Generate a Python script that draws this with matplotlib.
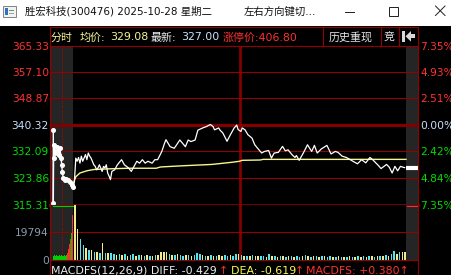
import numpy as np
import matplotlib
matplotlib.use('Agg')
import matplotlib.pyplot as plt
from matplotlib.patches import Rectangle, Polygon

plt.rcParams['font.family'] = ['DejaVu Sans', 'Noto Sans CJK SC']

W, H = 452, 275

# header info
stock_name = '胜宏科技'
stock_code = '300476'
trade_date = '2025-10-28'
weekday = '星期二'
avg_price_now = 329.08
last_price = 327.00
limit_up = 406.80
macd_diff, macd_dea, macd_val = -0.429, -0.619, 0.380

# axis labels
price_levels = [365.33, 357.10, 348.87, 340.32, 332.09, 323.86, 315.31]
pct_labels = ['7.35%', '4.93%', '2.51%', '0.00%', '2.42%', '4.84%', '7.35%']
pre_close = 340.32
vol_levels = [19794, 0]
vol_top = 39588

# call auction (9:15-9:25), minutes relative to the open
auc_t = [-14.2, -14.2, -14.0, -13.7, -13.0, -11.7, -10.6, -9.9, -9.4, -8.6,
         -8.1, -7.7, -7.0, -5.8, -4.7, -3.4, -2.2, -0.9, 0.0]
auc_p = [338.8, 315.9, 329.9, 334.1, 331.5, 333.6, 332.6, 331.0, 333.1, 329.9,
         327.8, 325.7, 323.6, 323.1, 323.3, 323.1, 322.5, 321.5, 321.0]
auc_vol = [2900, 3600, 2900, 3600, 2900, 2900, 3600, 2900, 3600, 2900,
           2900, 3600, 2900, 3600, 5000, 8000, 11500, 15000, 19300, 32000]
auc_tone = ['g'] * 14 + ['r'] * 4 + ['g', 'r']

# intraday price (minute, price)
price_t = [0, 1, 2, 3, 4, 5, 6, 7, 9, 10, 11, 12, 13, 15, 16, 17, 18, 19, 21, 22,
           23, 24, 25, 26, 27, 28, 30, 32, 35, 37, 40, 42, 44, 46, 48, 50, 52, 54, 57, 59,
           61, 64, 66, 67, 70, 73, 77, 81, 83, 85, 88, 90, 94, 96, 99, 101, 102, 105, 106, 108,
           111, 113, 116, 118, 119, 121, 122, 124, 126, 129, 131, 134, 136, 138, 141, 143, 145, 148, 151, 153,
           155, 158, 160, 161, 163, 166, 169, 172, 174, 176, 179, 183, 186, 189, 191, 194, 197, 201, 205, 208,
           211, 214, 216, 220, 222, 226, 228, 230, 232, 234, 236, 238, 239]
price_v = [321.0, 322.5, 330.0, 329.0, 330.2, 328.4, 330.6, 329.0, 331.1, 329.5,
           331.6, 330.6, 330.0, 327.9, 327.4, 326.3, 326.9, 327.9, 325.8, 327.4,
           326.9, 327.9, 325.3, 324.3, 323.2, 325.8, 326.3, 327.9, 329.5, 327.9,
           326.9, 325.8, 327.4, 329.0, 328.4, 329.5, 328.4, 329.0, 328.4, 329.5,
           329.5, 332.1, 334.7, 335.8, 333.6, 333.1, 335.7, 333.6, 335.7, 335.2,
           335.7, 338.8, 339.6, 339.9, 340.6, 339.9, 338.9, 339.5, 338.8, 337.9,
           335.3, 337.0, 339.4, 340.4, 339.0, 338.4, 339.5, 338.9, 337.4, 336.3,
           334.2, 332.6, 331.6, 332.1, 332.4, 330.0, 331.6, 331.8, 333.7, 332.3,
           332.6, 331.0, 330.2, 330.8, 329.3, 331.6, 334.2, 332.1, 334.0, 331.6,
           332.9, 334.0, 331.3, 332.1, 331.8, 330.6, 330.2, 329.2, 328.2, 329.5,
           328.5, 330.2, 329.5, 327.7, 326.7, 328.0, 327.1, 325.3, 327.4, 326.0,
           327.4, 327.1, 327.0]

# average price line
avg_t = [0, 1, 2, 5, 10, 15, 25, 40, 60, 63, 80, 100, 115, 120, 122, 135, 137, 240]
avg_v = [321.5, 323.0, 324.1, 325.3, 326.0, 326.4, 326.6, 326.8, 326.8, 327.2,
         327.6, 328.0, 328.7, 329.0, 329.3, 329.4, 329.6, 329.6]

# volume, one bar per two minutes ('c' = cyan, 'y' = yellow)
vol_v = [40000, 22000, 15000, 10700, 8300, 7150, 7150, 6000, 6000, 4800,
         11900, 4800, 5200, 4800, 4000, 3600, 4300, 3600, 4300, 3200,
         3600, 4300, 3200, 3600, 3900, 3200, 3600, 2900, 3200, 3600,
         3900, 5500, 6000, 5500, 4300, 3900, 3600, 4300, 3600, 3200,
         3600, 3900, 3200, 3600, 4800, 4300, 3600, 3200, 2900, 3600,
         3200, 2900, 3600, 3200, 3900, 3200, 3600, 3200, 4300, 4300,
         3600, 3200, 2900, 3200, 3600, 2900, 3200, 2900, 3200, 2500,
         4300, 2900, 3200, 2500, 2900, 3200, 2500, 2900, 3200, 2500,
         2900, 2500, 2900, 3600, 2900, 2500, 3200, 2900, 2500, 2900,
         3200, 2500, 2900, 2500, 2200, 2900, 2500, 2200, 2500, 2900,
         2500, 2200, 2900, 2500, 2900, 2500, 3200, 2900, 2500, 2900,
         3200, 2900, 3600, 3200, 4300, 6400, 4300, 6000, 5500, 6000]
vol_tone = ''.join(['yyccycycyc', 'ycyccycycy', 'ccycycycyc', 'yyyycycycc',
                    'ycycccycyc', 'ycyyccyccy', 'cycycyyccy', 'cycycycycy',
                    'ccycycycyc', 'yccycycycy', 'cycycycycy', 'cycyccycyy'])
close_vol = [2000, 1400, 2100, 2900, 3600, 4300, 5000, 5700, 6400, 7100, 7100]
close_tone = ['g'] + ['r'] * 10

tone_col = {'c': '#52e4f0', 'y': '#efeb8e', 'g': '#00d000', 'r': '#ff3030'}
RED_T = '#960000'
RED_K = '#820000'
SHADE = '#252525'
T0, T1 = -16.58, 248.65

fig = plt.figure(figsize=(W / 100, H / 100), dpi=100, facecolor='black')


def box(x0, y0, x1, y1):
    return [x0 / W, 1 - y1 / H, (x1 - x0) / W, (y1 - y0) / H]


ax = fig.add_axes(box(50, 46, 418, 204.7))
axv = fig.add_axes(box(50, 204.7, 418, 260))
for a in (ax, axv):
    a.set_facecolor('black')
    a.set_xlim(T0, T1)
    a.set_xticks([])
    a.set_yticks([])
    for s in a.spines.values():
        s.set_visible(False)
    a.axvspan(T0, 0, color=SHADE, lw=0, zorder=0)
    a.axvspan(240, T1, color=SHADE, lw=0, zorder=0)
    a.axvline(120, color=RED_K, lw=2.0, zorder=1)
    a.axvline(-7.9, color='#c00000', lw=0.7, ls=(0, (1, 1.6)), zorder=1)

ax.set_ylim(price_levels[-1], price_levels[0])
axv.set_ylim(0, vol_top)

# price grid
for lv in price_levels[1:-1]:
    if lv == pre_close:
        ax.axhline(lv, color=RED_K, lw=2.3, zorder=1)
    else:
        ax.axhline(lv, color=RED_T, lw=0.75, zorder=1)
ax.axhline(price_levels[-1], color=RED_K, lw=2.0, zorder=1, clip_on=False)
axv.axhline(vol_levels[0], color=RED_T, lw=0.75, zorder=1)

# lines
ax.plot(auc_t, auc_p, color='white', lw=1.0, marker='o', ms=2.6,
        mec='white', mfc='white', zorder=4)
ax.plot(avg_t, avg_v, color='#f6f68e', lw=1.0, zorder=3)
ax.plot(price_t, price_v, color='white', lw=0.9, zorder=4)
ax.plot([240, T1], [last_price, last_price], color='white', lw=3.0,
        solid_capstyle='butt', zorder=4, clip_on=False)

# volume bars
sess_x = 1.4 + 2 * np.arange(len(vol_v))
axv.bar(sess_x, vol_v, width=1.1, color=[tone_col[c] for c in vol_tone], zorder=2)
auc_x = np.linspace(-14.05, -0.36, len(auc_vol))
axv.bar(auc_x, auc_vol, width=0.62, color=[tone_col[c] for c in auc_tone], zorder=2)
close_x = np.linspace(240.7, 247.9, len(close_vol))
axv.bar(close_x, close_vol, width=0.62, color=[tone_col[c] for c in close_tone], zorder=2)
axv.plot([-14.3, 0], [38600, 38600], color='#00d000', lw=0.8, zorder=2)
axv.plot([241, T1], [38600, 38600], color='#ff3030', lw=0.8, zorder=2)

# axis labels
FS = 7.7
FT = 7.9
lab_cols = ['#ff3232'] * 3 + ['#c8e0ff'] + ['#00dc00'] * 3
for lv, pct, c in zip(price_levels, pct_labels, lab_cols):
    ax.text(-0.003, lv, f'{lv:.2f}', transform=ax.get_yaxis_transform(),
            ha='right', va='center_baseline', color=c, fontsize=FS, clip_on=False)
    ax.text(1.006, lv, pct, transform=ax.get_yaxis_transform(),
            ha='left', va='center_baseline', color=c, fontsize=FS, clip_on=False)
for lv in vol_levels:
    axv.text(-0.003, lv, f'{lv}', transform=axv.get_yaxis_transform(),
             ha='right', va='center_baseline', color='#8a98aa', fontsize=FS, clip_on=False)

# decoration layer in pixel coordinates
deco = fig.add_axes([0, 0, 1, 1], zorder=5)
deco.set_xlim(0, W)
deco.set_ylim(H, 0)
deco.axis('off')
deco.patch.set_alpha(0)

deco.add_patch(Rectangle((0, 0), W, 25.5, color='white', lw=0))
deco.add_patch(Rectangle((3.5, 6), 13, 11, fc='#f2f2f2', ec='#707070', lw=0.6))
deco.add_patch(Rectangle((5, 8), 3, 7, fc='#3070c0', lw=0))
deco.add_patch(Rectangle((9.5, 9.5), 5, 1.5, fc='#50a060', lw=0))
deco.add_patch(Rectangle((9.5, 12.5), 5, 1.5, fc='#a0a0a0', lw=0))
deco.text(25, 15, f'{stock_name}({stock_code}) {trade_date} {weekday}',
          color='#101010', fontsize=7.5, va='baseline')
deco.text(243.3, 15, '左右方向键切...', color='#101010', fontsize=7.5, va='baseline')
deco.plot([345, 354], [11.5, 11.5], color='#202020', lw=0.7)
deco.add_patch(Rectangle((389.5, 6.5), 9, 9, fill=False, ec='#202020', lw=0.7))
deco.plot([435.5, 445], [6, 15.5], color='#202020', lw=0.7)
deco.plot([435.5, 445], [15.5, 6], color='#202020', lw=0.7)

# frames
deco.plot([50, 418], [26.7, 26.7], color=RED_T, lw=0.8)
deco.plot([50, 418], [46.3, 46.3], color=RED_T, lw=0.8)
deco.plot([50, 418], [259.8, 259.8], color=RED_T, lw=0.8)
deco.plot([50.3, 50.3], [26.7, H], color=RED_T, lw=0.8)
deco.plot([418, 418], [26.7, H], color=RED_T, lw=0.8)
for xs in (323, 381, 399):
    deco.plot([xs, xs], [26.7, 46.3], color=RED_T, lw=0.8)

# info row
runs = [(51, '分时', '#f4f49a'), (79.3, '均价:', '#f4f49a'),
        (110, f'{avg_price_now:.2f}', '#f4f49a'), (150.7, '最新:', '#f0f0f0'),
        (181, f'{last_price:.2f}', '#c8e4ff'), (222.7, f'涨停价:{limit_up:.2f}', '#ff3030'),
        (328.3, '历史重现', '#e6e6e6'), (383.3, '竞', '#e6e6e6')]
for x, s, c in runs:
    deco.text(x, 40.5, s, color=c, fontsize=FT, va='baseline')
deco.add_patch(Rectangle((402.5, 31), 2.5, 10.5, fc='#d8d8d8', lw=0))
deco.add_patch(Polygon([[405.5, 36.3], [411, 31], [411, 41.6]], fc='#d8d8d8', lw=0))
deco.add_patch(Rectangle((411, 34.3), 4, 4, fc='#d8d8d8', lw=0))

# MACD caption
runs = [(51, f'MACDFS(12,26,9) DIFF: {macd_diff:.3f}', '#ececec'), (218.3, '↑', '#ff3030'),
        (230.7, f'DEA: {macd_dea:.3f}', '#f8f850'), (295, '↑', '#ff3030'),
        (305.7, f'MACDFS: {macd_val:+.3f}↑', '#ff3030')]
for x, s, c in runs:
    deco.text(x, 273.8, s, color=c, fontsize=FT, va='baseline')

fig.savefig('out.png', dpi=100, facecolor='black')
